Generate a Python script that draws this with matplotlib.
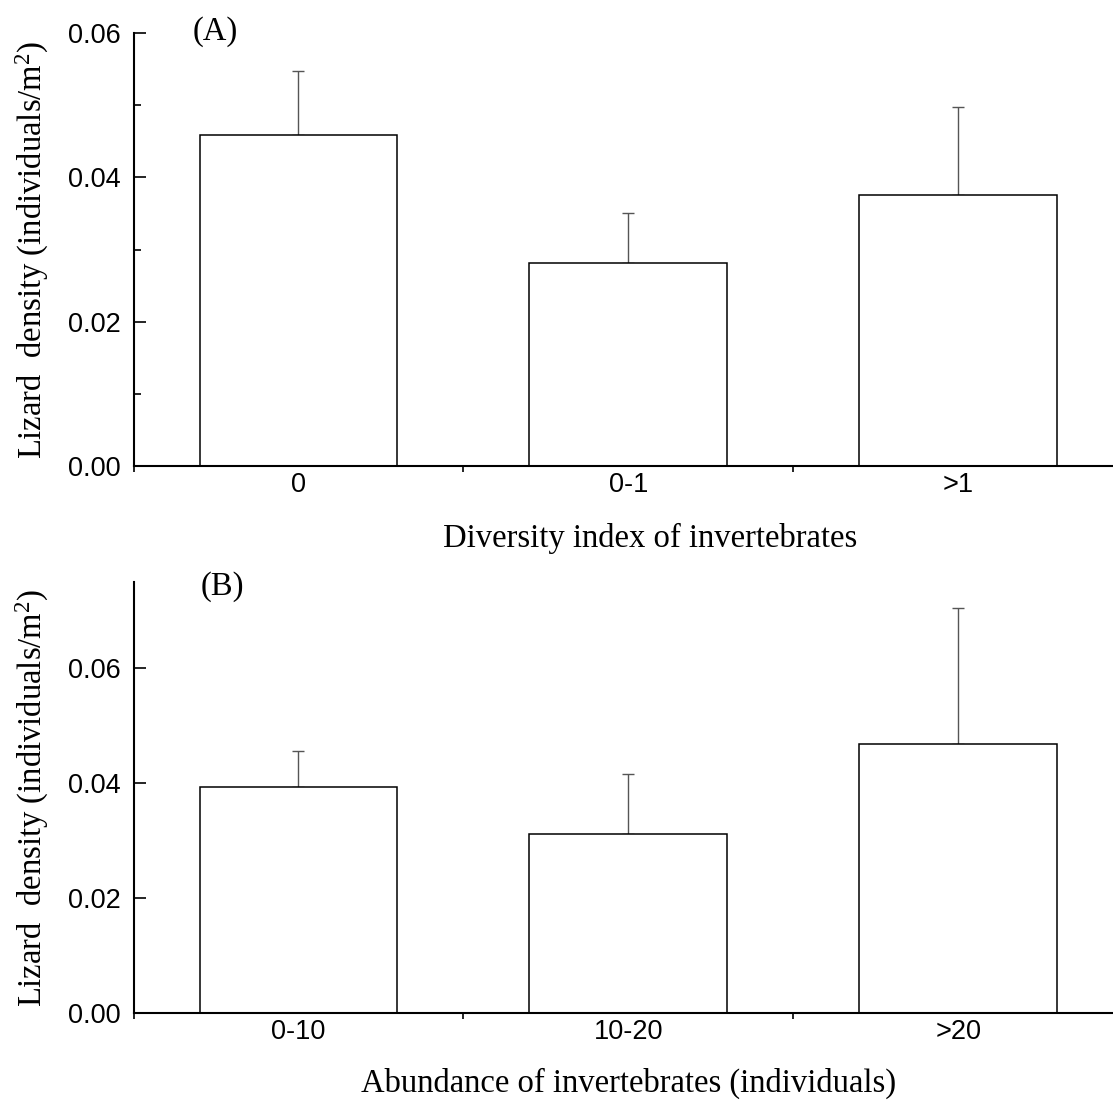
import matplotlib
matplotlib.use("Agg")
import matplotlib.pyplot as plt
from matplotlib.ticker import MultipleLocator, FormatStrFormatter, FixedLocator, NullLocator
import numpy as np

# ---- data ----
cats_a = ["0", "0-1", ">1"]
mean_a = [0.0458, 0.0281, 0.0376]
upper_a = [0.0547, 0.0350, 0.0498]   # top of error bar

cats_b = ["0-10", "10-20", ">20"]
mean_b = [0.0393, 0.0311, 0.0468]
upper_b = [0.0456, 0.0416, 0.0704]

xlabel_a = "Diversity index of invertebrates"
xlabel_b = "Abundance of invertebrates (individuals)"
ylabel = r"Lizard  density (individuals/m$\mathregular{^2}$)"

plt.rcParams["mathtext.fontset"] = "custom"
plt.rcParams["mathtext.rm"] = "Liberation Serif"
plt.rcParams["mathtext.it"] = "Liberation Serif:italic"

W, H = 1113, 1100
fig = plt.figure(figsize=(W / 100, H / 100), dpi=100)

def px_axes(left, right, top, bottom):
    return [left / W, (H - bottom) / H, (right - left) / W, (bottom - top) / H]

serif = "Liberation Serif"
sans = "Liberation Sans"
TICK_FS = 19.5
LAB_FS = 23.5

def draw(ax, cats, means, uppers, ylim, minor, xlabel, xlab_x, xlab_y, tag, tag_xy):
    x = np.arange(len(cats))
    ax.bar(x, means, width=0.6, color="white", edgecolor="black", linewidth=1.1, zorder=2)
    err = np.array(uppers) - np.array(means)
    ax.errorbar(x, means, yerr=[np.zeros(len(x)), err], fmt="none",
                ecolor="#555555", elinewidth=1.0, capsize=4, capthick=1.0, zorder=1)
    ax.set_xlim(-0.5, 2.5)
    ax.set_ylim(*ylim)
    for s in ["top", "right"]:
        ax.spines[s].set_visible(False)
    for s in ["left", "bottom"]:
        ax.spines[s].set_linewidth(1.5)
    ax.xaxis.set_major_locator(FixedLocator([-0.5, 0.5, 1.5, 2.5]))
    ax.xaxis.set_major_formatter(plt.NullFormatter())
    ax.xaxis.set_minor_locator(FixedLocator(list(x)))
    ax.set_xticklabels(cats, minor=True)
    ax.tick_params(axis="x", which="major", direction="out", length=4.5, width=1.2)
    ax.tick_params(axis="x", which="minor", length=0, pad=4, labelsize=TICK_FS)
    for t in ax.get_xticklabels(minor=True):
        t.set_fontfamily(sans)
    ax.yaxis.set_major_locator(MultipleLocator(0.02))
    ax.yaxis.set_major_formatter(FormatStrFormatter("%.2f"))
    if minor:
        ax.yaxis.set_minor_locator(MultipleLocator(0.01))
    else:
        ax.yaxis.set_minor_locator(NullLocator())
    ax.tick_params(axis="y", which="major", direction="in", length=8.5, width=1.2,
                   labelsize=TICK_FS, pad=9)
    ax.tick_params(axis="y", which="minor", direction="in", length=5, width=1.2)
    for t in ax.get_yticklabels():
        t.set_fontfamily(sans)
    ax.set_xlabel(xlabel, fontsize=LAB_FS, fontfamily=serif)
    ax.xaxis.label.set_va("baseline")
    ax.xaxis.set_label_coords(xlab_x, xlab_y)
    ax.set_ylabel(ylabel, fontsize=LAB_FS, fontfamily=serif)
    ax.yaxis.set_label_coords(-0.083, 0.5)
    ax.text(tag_xy[0], tag_xy[1], tag, transform=ax.transAxes, fontsize=LAB_FS,
            fontfamily=serif, ha="center", va="center")

ax1 = fig.add_axes(px_axes(133.5, 1123.5, 33, 466))
draw(ax1, cats_a, mean_a, upper_a, (0, 0.06), True, xlabel_a, 0.522, -0.187,
     "(A)", ((215 - 133.5) / 990, (466 - 32) / 433))

ax2 = fig.add_axes(px_axes(133.5, 1123.5, 582, 1013))
draw(ax2, cats_b, mean_b, upper_b, (0, 0.075), False, xlabel_b, 0.5, -0.182,
     "(B)", ((222 - 133.5) / 990, (1013 - 587) / 431))

fig.savefig("out.png", dpi=100)
